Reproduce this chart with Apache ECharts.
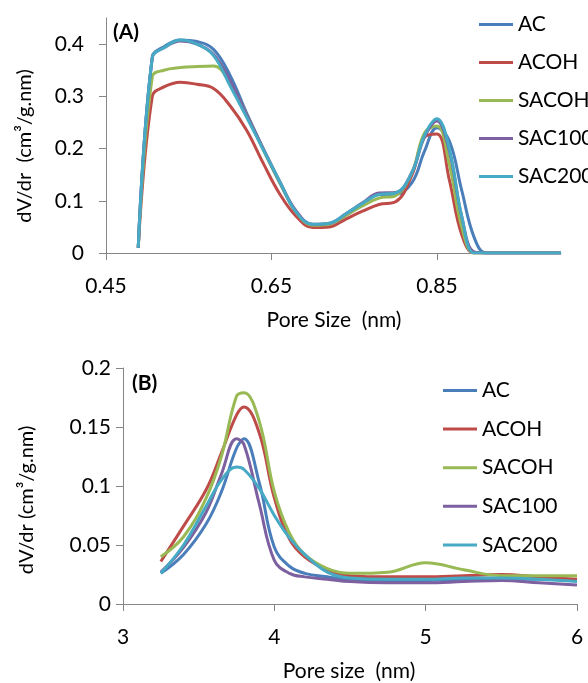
<!DOCTYPE html>
<html><head><meta charset="utf-8">
<script src="https://cdn.jsdelivr.net/npm/echarts@6/dist/echarts.min.js"></script>
<style>html,body{margin:0;padding:0;background:#fff}#c{width:588px;height:683px}</style>
</head><body><div id="c"></div>
<script>
// ---- Chart A data ----
const seriesNames = ['AC', 'ACOH', 'SACOH', 'SAC100', 'SAC200'];
const xA = [0.489, 0.506, 0.52, 0.54, 0.56, 0.58, 0.60, 0.62, 0.64, 0.66, 0.68, 0.70, 0.72, 0.74, 0.76, 0.78, 0.80, 0.82, 0.835, 0.85, 0.865, 0.88, 0.895, 0.91, 0.95, 1.0];
const aAC     = [0.01, 0.375, 0.395, 0.408, 0.405, 0.390, 0.340, 0.268, 0.200, 0.135, 0.078, 0.054, 0.055, 0.072, 0.092, 0.112, 0.112, 0.135, 0.195, 0.240, 0.215, 0.120, 0.030, 0, 0, 0];
const aACOH   = [0.01, 0.300, 0.318, 0.327, 0.323, 0.315, 0.282, 0.235, 0.172, 0.113, 0.070, 0.049, 0.050, 0.065, 0.080, 0.093, 0.098, 0.150, 0.222, 0.228, 0.140, 0.035, 0, 0, 0, 0];
const aSACOH  = [0.01, 0.338, 0.350, 0.355, 0.357, 0.358, 0.325, 0.265, 0.198, 0.135, 0.078, 0.053, 0.055, 0.072, 0.090, 0.105, 0.110, 0.155, 0.230, 0.243, 0.170, 0.050, 0, 0, 0, 0];
const aSAC100 = [0.01, 0.375, 0.393, 0.406, 0.400, 0.380, 0.330, 0.265, 0.200, 0.137, 0.080, 0.055, 0.057, 0.075, 0.096, 0.115, 0.116, 0.155, 0.222, 0.253, 0.195, 0.070, 0.002, 0, 0, 0];
const aSAC200 = [0.01, 0.375, 0.393, 0.408, 0.400, 0.378, 0.320, 0.260, 0.198, 0.137, 0.078, 0.055, 0.057, 0.075, 0.095, 0.112, 0.115, 0.155, 0.225, 0.257, 0.200, 0.070, 0, 0, 0, 0];
const xTicksA = [0.45, 0.65, 0.85];
const yTicksA = [0, 0.1, 0.2, 0.3, 0.4];

// ---- Chart B data ----
const xB = [3.25, 3.4, 3.55, 3.65, 3.75, 3.8, 3.9, 4.0, 4.1, 4.2, 4.35, 4.5, 4.75, 5.0, 5.25, 5.5, 5.75, 6.0];
const bAC     = [0.026, 0.042, 0.068, 0.095, 0.132, 0.140, 0.103, 0.048, 0.032, 0.026, 0.023, 0.021, 0.020, 0.020, 0.021, 0.021, 0.021, 0.020];
const bACOH   = [0.036, 0.066, 0.097, 0.128, 0.160, 0.167, 0.145, 0.090, 0.055, 0.040, 0.029, 0.024, 0.023, 0.023, 0.024, 0.025, 0.023, 0.021];
const bSACOH  = [0.040, 0.057, 0.090, 0.125, 0.176, 0.179, 0.155, 0.095, 0.060, 0.042, 0.030, 0.026, 0.027, 0.035, 0.029, 0.024, 0.024, 0.024];
const bSAC100 = [0.027, 0.048, 0.078, 0.110, 0.140, 0.135, 0.085, 0.037, 0.026, 0.023, 0.021, 0.019, 0.018, 0.018, 0.019, 0.020, 0.018, 0.016];
const bSAC200 = [0.026, 0.050, 0.083, 0.105, 0.116, 0.114, 0.098, 0.075, 0.056, 0.042, 0.027, 0.022, 0.021, 0.021, 0.022, 0.022, 0.021, 0.019];
const xTicksB = [3, 4, 5, 6];
const yTicksB = [0, 0.05, 0.1, 0.15, 0.2];

const colors = ['#4A7EBB', '#BE4B48', '#98B954', '#7D60A0', '#46AAC5'];
const FONT = 'Lato';
const FS = 21;
const axisColor = '#868686';

const seriesA = [aAC, aACOH, aSACOH, aSAC100, aSAC200];
const seriesB = [bAC, bACOH, bSACOH, bSAC100, bSAC200];

function mk(xs, ys, idx, name, color) {
  return {
    type: 'line', name: name, xAxisIndex: idx, yAxisIndex: idx,
    data: xs.map((x, i) => [x, ys[i]]),
    smooth: 0.4, showSymbol: false, symbol: 'none',
    lineStyle: { width: 3, color: color }, itemStyle: { color: color },
    z: 2
  };
}
const series = [];
seriesA.forEach((ys, i) => series.push(mk(xA, ys, 0, seriesNames[i], colors[i])));
seriesB.forEach((ys, i) => series.push(mk(xB, ys, 1, seriesNames[i], colors[i])));

function xAxis(idx, min, max, ticks) {
  return {
    type: 'value', gridIndex: idx, min: min, max: max,
    axisLine: { show: true, onZero: false, lineStyle: { color: axisColor, width: 1 } },
    axisTick: { show: true, inside: false, length: 7, customValues: ticks, lineStyle: { color: axisColor } },
    axisLabel: { customValues: ticks, margin: 23, color: '#000', fontFamily: FONT, fontSize: FS },
    splitLine: { show: false }
  };
}
function yAxis(idx, min, max, ticks, margin) {
  return {
    type: 'value', gridIndex: idx, min: min, max: max,
    axisLine: { show: true, onZero: false, lineStyle: { color: axisColor, width: 1 } },
    axisTick: { show: true, inside: false, length: 7, customValues: ticks, lineStyle: { color: axisColor } },
    axisLabel: { customValues: ticks, margin: margin, color: '#000', fontFamily: FONT, fontSize: FS },
    splitLine: { show: false }
  };
}

const legendCommon = {
  orient: 'vertical', icon: 'rect', itemWidth: 34, itemHeight: 3, itemGap: 17,
  textStyle: { fontFamily: FONT, fontSize: FS, color: '#000', lineHeight: 21 },
  data: seriesNames, selectedMode: false
};

const option = {
  animation: false,
  backgroundColor: '#fff',
  grid: [
    { left: 106, top: 18, width: 455, height: 235 },
    { left: 123, top: 368, width: 454, height: 236 }
  ],
  xAxis: [ xAxis(0, 0.45, 1.0, xTicksA), xAxis(1, 3, 6, xTicksB) ],
  yAxis: [ yAxis(0, 0, 0.45, yTicksA, 22), yAxis(1, 0, 0.2, yTicksB, 12) ],
  legend: [
    Object.assign({ left: 474, top: 9 }, legendCommon),
    Object.assign({ left: 438, top: 375 }, legendCommon, { itemGap: 17.6 })
  ],
  graphic: [
    { type: 'text', x: 113, y: 32, style: { text: '(A)', font: 'bold 21px ' + FONT, fill: '#000', textVerticalAlign: 'middle' } },
    { type: 'text', x: 132, y: 383, style: { text: '(B)', font: 'bold 21px ' + FONT, fill: '#000', textVerticalAlign: 'middle' } },
    { type: 'text', x: 25, y: 146, rotation: Math.PI / 2, style: { text: 'dV/dr  (cm³/g.nm)', font: '20px ' + FONT, fill: '#000', textAlign: 'center', textVerticalAlign: 'middle' } },
    { type: 'text', x: 27, y: 500, rotation: Math.PI / 2, style: { text: 'dV/dr (cm³/g.nm)', font: '20px ' + FONT, fill: '#000', textAlign: 'center', textVerticalAlign: 'middle' } },
    { type: 'text', x: 334, y: 320, style: { text: 'Pore Size  (nm)', font: FS + 'px ' + FONT, fill: '#000', textAlign: 'center', textVerticalAlign: 'middle' } },
    { type: 'text', x: 349, y: 671, style: { text: 'Pore size  (nm)', font: FS + 'px ' + FONT, fill: '#000', textAlign: 'center', textVerticalAlign: 'middle' } }
  ],
  series: series
};
const chart = echarts.init(document.getElementById('c'), null, { renderer: 'canvas' });
chart.setOption(option);
</script>
</body></html>
